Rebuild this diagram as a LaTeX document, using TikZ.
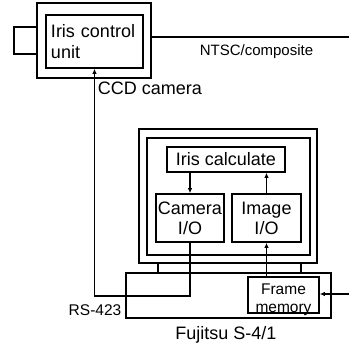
\documentclass[tikz,border=0pt]{standalone}
\usepackage{fontspec}
\setmainfont{Liberation Sans}
\usetikzlibrary{arrows.meta}
\begin{document}
\begin{tikzpicture}[x=1pt,y=-1pt,
  line width=1.6pt,
  box/.style={draw,rectangle,inner sep=0pt},
  lbl/.style={inner sep=0pt,font=\fontsize{18}{20}\selectfont},
  slbl/.style={inner sep=0pt,font=\fontsize{15.5}{18}\selectfont},
  arr/.style={-{Latex[length=5pt,width=4.5pt]}}]
\useasboundingbox (0,0) rectangle (349,348);
% camera
\node[box,minimum width=114pt,minimum height=75pt] (camOuter) at (94,40.5) {};
\node[box,minimum width=23pt,minimum height=27pt] (lens) at (25.5,40.5) {};
\node[box,minimum width=97pt,minimum height=53pt,text width=87pt,inner xsep=5pt,align=left,font=\fontsize{18}{21}\selectfont] (camInner) at (94.5,41.5) {Iris control\\unit};
\node[lbl,anchor=base] (ccd) at (150,95) {CCD camera};
% NTSC line
\coordinate (ntscEnd) at (349,37);
\draw (camOuter.east |- ntscEnd) -- (ntscEnd);
\node[inner sep=0pt,font=\fontsize{15}{17}\selectfont,anchor=base] (ntsc) at (256.5,56) {NTSC/composite};
% monitor
\node[box,minimum width=178pt,minimum height=134pt] (monOuter) at (228,196) {};
\node[box,minimum width=163pt,minimum height=117pt] (monInner) at (228.5,196.5) {};
\node[box,minimum width=118pt,minimum height=25pt,lbl] (calc) at (226,159.5) {Iris calculate};
\node[box,minimum width=68pt,minimum height=48pt,align=center,lbl] (camIO) at (190,218) {Camera\\I/O};
\node[box,minimum width=69pt,minimum height=48pt,align=center,lbl] (imgIO) at (266.5,218) {Image\\I/O};
\draw[arr] (calc.south -| camIO.north) -- (camIO.north);
\draw[arr] (imgIO.north) -- (imgIO.north |- calc.south);
% Fujitsu
\node[box,minimum width=205pt,minimum height=45pt] (fuj) at (228.5,295.5) {};
\coordinate (legA) at (158,268);
\coordinate (legB) at (301,268);
\draw (monOuter.south -| legA) -- (fuj.north -| legA);
\draw (monOuter.south -| legB) -- (fuj.north -| legB);
\node[box,minimum width=71pt,minimum height=36pt] (fm) at (283.5,295) {};
\node[slbl,align=center] (fmText) at (283.5,300) {Frame\\memory};
\coordinate (fmIn) at (349,294);
\draw[arr] (fmIn) -- (fm.east |- fmIn);
\draw[arr] (fm.north -| imgIO.south) -- (imgIO.south);
% RS-423
\coordinate (rsY) at (0,296);
\draw[arr] (camIO.south) -- (camIO.south |- rsY) -- (camInner.south |- rsY) -- (camInner.south);
\node[slbl,anchor=base] (rs) at (95,315) {RS-423};
\node[lbl,anchor=base] (fujLbl) at (226,339) {Fujitsu S-4/1};
\end{tikzpicture}
\end{document}
